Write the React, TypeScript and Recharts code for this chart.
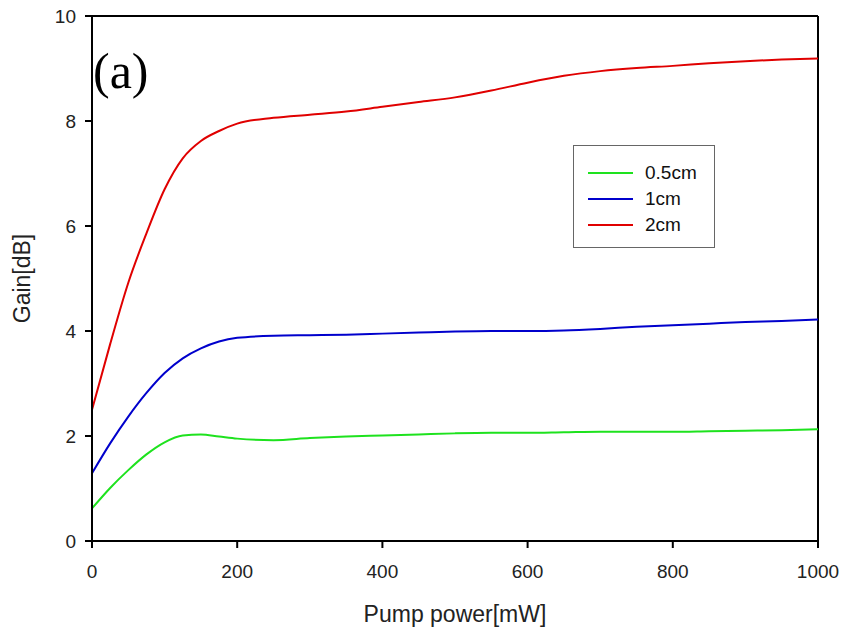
import React from 'react';
import { LineChart, Line, XAxis, YAxis, ReferenceLine, Customized } from 'recharts';

const pumpPower = [0, 25, 50, 75, 100, 125, 150, 175, 200, 250, 300, 350, 400, 450, 500, 550, 600, 650, 700, 750, 800, 850, 900, 950, 1000];
const gain05cm = [0.62, 1.01, 1.35, 1.65, 1.88, 2.01, 2.03, 1.99, 1.95, 1.92, 1.96, 1.99, 2.01, 2.03, 2.05, 2.06, 2.06, 2.07, 2.08, 2.08, 2.08, 2.09, 2.1, 2.11, 2.13];
const gain1cm = [1.29, 1.86, 2.37, 2.82, 3.2, 3.48, 3.67, 3.8, 3.87, 3.91, 3.92, 3.93, 3.95, 3.97, 3.99, 4.0, 4.0, 4.01, 4.04, 4.08, 4.11, 4.14, 4.17, 4.19, 4.22];
const gain2cm = [2.5, 3.75, 4.92, 5.86, 6.7, 7.29, 7.62, 7.81, 7.95, 8.06, 8.12, 8.18, 8.27, 8.36, 8.45, 8.58, 8.73, 8.86, 8.95, 9.01, 9.05, 9.1, 9.14, 9.17, 9.19];

const xTicks = [0, 200, 400, 600, 800, 1000];
const yTicks = [0, 2, 4, 6, 8, 10];

const seriesInfo = [
  { key: 'g05', name: '0.5cm', color: '#1ee21e' },
  { key: 'g1', name: '1cm', color: '#0000cc' },
  { key: 'g2', name: '2cm', color: '#e00000' },
];

const data = pumpPower.map((p, i) => ({ p, g05: gain05cm[i], g1: gain1cm[i], g2: gain2cm[i] }));

const FONT = '"Liberation Sans", Arial, sans-serif';

const LegendBox = () => (
  <div
    style={{
      position: 'absolute',
      left: 573,
      top: 145,
      width: 140,
      height: 101,
      border: '1px solid #666',
      background: '#fff',
      fontFamily: FONT,
      fontSize: 19,
      color: '#111',
    }}
  >
    {seriesInfo.map((s, i) => (
      <div key={s.key} style={{ position: 'absolute', left: 0, top: 26 * i + 15, height: 24, width: 140 }}>
        <div style={{ position: 'absolute', left: 14, top: 11, width: 45, height: 2, background: s.color }} />
        <div style={{ position: 'absolute', left: 71, top: 0, lineHeight: '24px' }}>{s.name}</div>
      </div>
    ))}
  </div>
);

const Extras = () => (
  <g>
    <text x={93} y={88} fontFamily='"Liberation Serif", "Times New Roman", serif' fontSize={50} fill="#000">
      (a)
    </text>
    <text x={455} y={622} textAnchor="middle" fontFamily={FONT} fontSize={23} fill="#222">
      Pump power[mW]
    </text>
    <text
      x={30}
      y={278.5}
      textAnchor="middle"
      transform="rotate(-90, 30, 278.5)"
      fontFamily={FONT}
      fontSize={23}
      fill="#222"
    >
      Gain[dB]
    </text>
  </g>
);

export default function App() {
  return (
    <div style={{ position: 'absolute', left: 0, top: 0, width: 846, height: 635, background: '#fff' }}>
      <LineChart width={846} height={635} data={data} margin={{ top: 16, right: 28, bottom: 64, left: 0 }}>
        <XAxis
          dataKey="p"
          type="number"
          domain={[0, 1000]}
          ticks={xTicks}
          height={30}
          tickSize={7}
          tickMargin={17}
          axisLine={{ stroke: '#000', strokeWidth: 2 }}
          tickLine={{ stroke: '#000', strokeWidth: 2 }}
          tick={{ fill: '#222', fontSize: 19, fontFamily: FONT }}
          interval={0}
        />
        <YAxis
          type="number"
          domain={[0, 10]}
          ticks={yTicks}
          width={92}
          tickSize={7}
          tickMargin={9}
          axisLine={{ stroke: '#000', strokeWidth: 2 }}
          tickLine={{ stroke: '#000', strokeWidth: 2 }}
          tick={{ fill: '#222', fontSize: 19, fontFamily: FONT }}
          interval={0}
        />
        <ReferenceLine y={10} stroke="#000" strokeWidth={2} />
        <ReferenceLine x={1000} stroke="#000" strokeWidth={2} />
        {seriesInfo.map((s) => (
          <Line
            key={s.key}
            type="monotone"
            dataKey={s.key}
            name={s.name}
            stroke={s.color}
            strokeWidth={2}
            dot={false}
            activeDot={false}
            isAnimationActive={false}
          />
        ))}
        <Customized component={<Extras />} />
      </LineChart>
      <LegendBox />
    </div>
  );
}
